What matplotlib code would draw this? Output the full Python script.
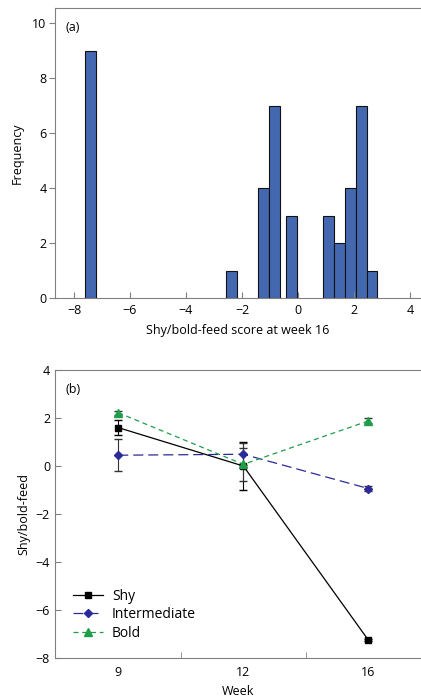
import numpy as np
import matplotlib.pyplot as plt

plt.rcParams['font.family'] = ['Open Sans', 'DejaVu Sans']

# histogram of week 16 scores
bin_centres = [-7.41, -2.39, -1.24, -0.84, -0.25, 1.08, 1.47, 1.87, 2.26, 2.64]
freq = [9, 1, 4, 7, 3, 3, 2, 4, 7, 1]
bin_width = 0.39

# group means over weeks
weeks = ['9', '12', '16']
shy = [1.6, 0.0, -7.26]
shy_err = [0.3, 0.98, 0.05]
inter = [0.45, 0.49, -0.94]
inter_err = [0.66, 0.45, 0.1]
bold = [2.22, 0.07, 1.88]
bold_err = [0.08, 0.7, 0.1]

fig = plt.figure(figsize=(4.21, 7.0), dpi=100)
grey = '#808080'
fs = 9

ax1 = fig.add_axes([0.1306, 0.574, 0.8694, 0.4143])
ax1.bar(bin_centres, freq, width=bin_width, color='#4468b0', edgecolor='#111111', linewidth=0.8)
ax1.set_xlim(-8.68, 4.39)
ax1.set_ylim(0, 10.55)
ax1.set_xticks([-8, -6, -4, -2, 0, 2, 4])
ax1.set_xticklabels(['\u22128', '\u22126', '\u22124', '\u22122', '0', '2', '4'])
ax1.set_yticks([0, 2, 4, 6, 8, 10])
ax1.tick_params(axis='x', direction='in', length=4, color=grey, labelsize=fs, pad=4)
ax1.tick_params(axis='y', direction='out', length=4, color=grey, labelsize=fs, pad=2)
ax1.spines['right'].set_visible(False)
for s in ['left', 'top', 'bottom']:
    ax1.spines[s].set_color(grey)
ax1.set_xlabel('Shy/bold-feed score at week 16', fontsize=fs, labelpad=5)
ax1.set_ylabel('Frequency', fontsize=fs, labelpad=6)
ax1.text(0.028, 0.955, '(a)', transform=ax1.transAxes, fontsize=fs, va='top')

ax2 = fig.add_axes([0.1306, 0.06, 0.8694, 0.4114])
x = np.arange(len(weeks))
ax2.errorbar(x, shy, yerr=shy_err, fmt='none', ecolor='black', capsize=3, elinewidth=0.8)
ax2.errorbar(x, inter, yerr=inter_err, fmt='none', ecolor='#333333', capsize=3, elinewidth=0.8)
ax2.errorbar(x, bold, yerr=bold_err, fmt='none', ecolor='#333333', capsize=3, elinewidth=0.8)
ax2.plot(x, shy, color='black', marker='s', markersize=5, linewidth=0.9, label='Shy')
ax2.plot(x, inter, color='#2a2a98', marker='D', markersize=4.5, linewidth=0.9,
         linestyle=(0, (8, 4)), label='Intermediate')
ax2.plot(x, bold, color='#1f9e4a', marker='^', markersize=5.5, linewidth=0.9,
         linestyle=(0, (4, 3)), label='Bold')
ax2.set_xlim(-0.506, 2.42)
ax2.set_ylim(-8, 4)
ax2.set_xticks(x)
ax2.set_xticklabels(weeks)
ax2.set_xticks([0.5, 1.5], minor=True)
ax2.set_yticks([-8, -6, -4, -2, 0, 2, 4])
ax2.set_yticklabels(['\u22128', '\u22126', '\u22124', '\u22122', '0', '2', '4'])
ax2.tick_params(axis='both', which='both', direction='in', length=4, color=grey, labelsize=fs)
ax2.tick_params(axis='x', which='major', length=0, pad=6)
ax2.spines['right'].set_visible(False)
for s in ['left', 'top', 'bottom']:
    ax2.spines[s].set_color(grey)
ax2.set_xlabel('Week', fontsize=fs, labelpad=4)
ax2.set_ylabel('Shy/bold-feed', fontsize=fs, labelpad=4)
ax2.text(0.028, 0.955, '(b)', transform=ax2.transAxes, fontsize=fs, va='top')
ax2.legend(loc='lower left', frameon=False, fontsize=10, handlelength=2.2,
           labelspacing=0.25, handletextpad=0.6, borderpad=0, borderaxespad=0,
           bbox_to_anchor=(0.049, 0.06))

fig.savefig('out.png', dpi=100)
